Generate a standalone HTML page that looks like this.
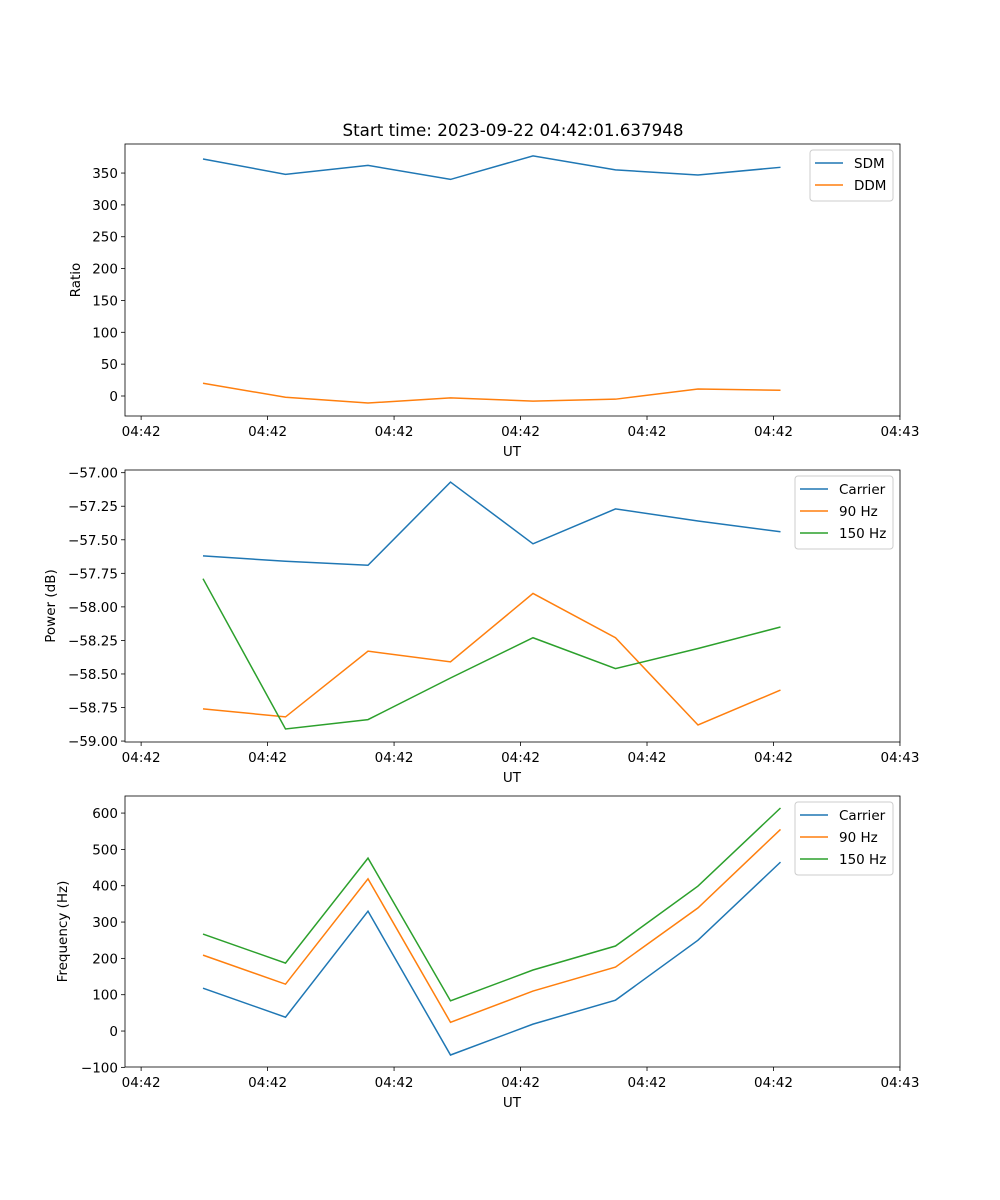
<!DOCTYPE html>
<html><head><meta charset="utf-8">
<style>
html,body{margin:0;padding:0;background:#fff;}
svg{display:block;font-family:"DejaVu Sans","Liberation Sans",sans-serif;}
</style></head>
<body>
<svg id="fig" width="1000" height="1200" viewBox="0 0 1000 1200">
<text x="513" y="136" font-size="16.7" text-anchor="middle">Start time: 2023-09-22 04:42:01.637948</text>
</svg>
<script>
// sample index (time steps)
const sampleIdx = [0,1,2,3,4,5,6,7];
const xTickVals = [-0.75,0.783,2.316,3.849,5.382,6.915,8.448];
const xTickLabels = ["04:42","04:42","04:42","04:42","04:42","04:42","04:43"];

const sdm = [372,348,362,340,377,355,347,359];
const ddm = [20,-2,-11,-3,-8,-5,11,9];
const ratioTicks = [0,50,100,150,200,250,300,350];

const pwrCarrier = [-57.62,-57.66,-57.69,-57.07,-57.53,-57.27,-57.36,-57.44];
const pwr90 = [-58.76,-58.82,-58.33,-58.41,-57.90,-58.23,-58.88,-58.62];
const pwr150 = [-57.79,-58.91,-58.84,-58.53,-58.23,-58.46,-58.31,-58.15];
const pwrTicks = [-57.00,-57.25,-57.50,-57.75,-58.00,-58.25,-58.50,-58.75,-59.00];

const frqCarrier = [118,38,330,-66,19,85,250,465];
const frq90 = [209,129,419,24,110,176,339,555];
const frq150 = [267,187,476,83,168,234,399,614];
const frqTicks = [-100,0,100,200,300,400,500,600];

const NS="http://www.w3.org/2000/svg";
const svg=document.getElementById('fig');
const L=125,R=900;
const xs=t=>203+82.5*t;
function mk(tag,attrs,parent){const e=document.createElementNS(NS,tag);for(const k in attrs)e.setAttribute(k,attrs[k]);(parent||svg).appendChild(e);return e;}
function panel(name,top,bot,ymin,ymax,yTicks,fmt,ylabel,series,legend){
  const g=mk('g',{});
  
  
  const ys=v=>bot-(v-ymin)/(ymax-ymin)*(bot-top);
  yTicks.forEach(v=>{
    const y=ys(v);
    const l=mk('line',{x1:L-4,x2:L,y1:y,y2:y,stroke:'#000','stroke-width':0.8},g);
    
    
    const t=mk('text',{x:L-7,y:y+5,'font-size':13.5,'text-anchor':'end'},g);
    
    
    t.textContent=fmt(v);
  });
  xTickVals.forEach((v,i)=>{
    const x=xs(v);
    const l=mk('line',{x1:x,x2:x,y1:bot,y2:bot+4,stroke:'#000','stroke-width':0.8},g);
    
    
    const t=mk('text',{x:x,y:bot+20,'font-size':13.5,'text-anchor':'middle'},g);
    
    
    t.textContent=xTickLabels[i];
  });
  const xl=mk('text',{x:512,y:bot+40,'font-size':13.5,'text-anchor':'middle'},g);
  
  
  xl.textContent='UT';
  const cy=(top+bot)/2, lx=(ylabel==='Ratio')?80:(ylabel==='Power (dB)'?55:67);
  const yl=mk('text',{x:lx,y:cy,'font-size':13.5,'text-anchor':'middle',transform:`rotate(-90 ${lx} ${cy})`},g);
  
  
  yl.textContent=ylabel;
  series.forEach(s=>{
    const p=mk('polyline',{points:s.data.map((v,i)=>xs(sampleIdx[i])+','+ys(v)).join(' '),fill:'none',stroke:s.color,'stroke-width':1.5},g);
    
    
  });
  const fr=mk('rect',{x:L,y:top,width:R-L,height:bot-top,fill:'none',stroke:'#000','stroke-width':0.8},g);
  
  
  const lg=mk('g',{},g);
  
  
  mk('rect',{x:legend.x,y:top+6,width:893-legend.x,height:series.length*22+7,rx:3,fill:'#fff',stroke:'#ccc','stroke-width':1},lg);
  series.forEach((s,i)=>{
    const y=top+19+i*22;
    const e=mk('g',{},lg);
    
    
    mk('line',{x1:legend.x+5,x2:legend.x+33,y1:y,y2:y,stroke:s.color,'stroke-width':1.5},e);
    const t=mk('text',{x:legend.x+44,y:y+5,'font-size':13.5},e);
    t.textContent=s.label;
  });
}
const C1='#1f77b4',C2='#ff7f0e',C3='#2ca02c';
panel('ratio-panel',144,416,-31.4,395.6,ratioTicks,v=>String(v).replace('-','\u2212'),'Ratio',
  [{id:'sdm',label:'SDM',data:sdm,color:C1},{id:'ddm',label:'DDM',data:ddm,color:C2}],{x:810});
panel('power-panel',470,742,-59.007,-56.98,pwrTicks,v=>v.toFixed(2).replace('-','\u2212'),'Power (dB)',
  [{id:'carrier',label:'Carrier',data:pwrCarrier,color:C1},{id:'90hz',label:'90 Hz',data:pwr90,color:C2},{id:'150hz',label:'150 Hz',data:pwr150,color:C3}],{x:795});
panel('frequency-panel',796,1067,-99,647,frqTicks,v=>String(v).replace('-','\u2212'),'Frequency (Hz)',
  [{id:'carrier',label:'Carrier',data:frqCarrier,color:C1},{id:'90hz',label:'90 Hz',data:frq90,color:C2},{id:'150hz',label:'150 Hz',data:frq150,color:C3}],{x:795});
</script>
</body></html>
